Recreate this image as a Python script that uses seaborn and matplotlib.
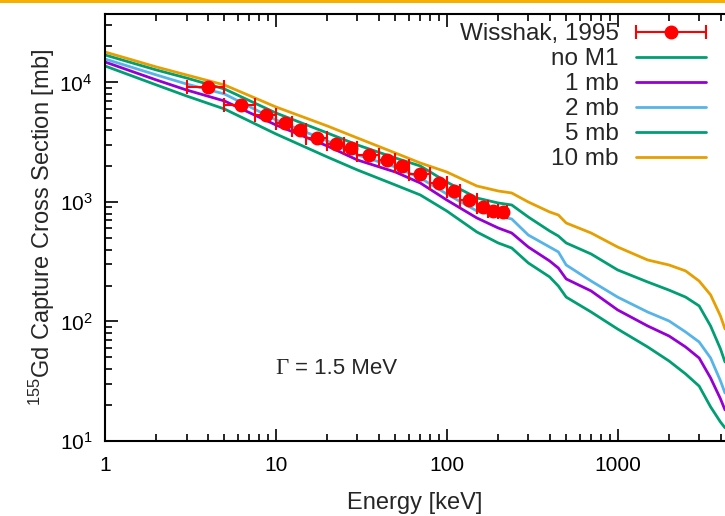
import numpy as np
import pandas as pd
import matplotlib
matplotlib.use("Agg")
import matplotlib.pyplot as plt
import seaborn as sns
from matplotlib.container import ErrorbarContainer
from matplotlib.legend_handler import HandlerErrorbar
from matplotlib.ticker import LogLocator, FixedLocator, FuncFormatter, NullFormatter, LogFormatterMathtext

# model curves, capture cross section [mb] vs neutron energy [keV]
energy = [1, 2, 3, 5, 10, 20, 30, 50, 70, 100, 150, 200, 240, 300, 400, 450, 500,
          700, 1000, 1500, 2000, 2500, 3000, 3500, 4000, 4250]
xs_no_m1 = [13750, 9530, 7710, 6000, 3710, 2380, 1853, 1388, 1145, 841, 561, 454, 412, 309,
            236, 198, 160, 120, 86.5, 61.2, 46.7, 36.4, 28.8, 19.3, 14.4, 12.9]
xs_1mb = [14840, 10490, 8650, 7000, 4410, 2940, 2246, 1782, 1442, 1039, 735, 606, 550, 420,
          321, 280, 227, 180, 125, 91.7, 75.6, 61.2, 49.5, 33.7, 22.5, 18.2]
xs_2mb = [15720, 11560, 9710, 8010, 4860, 3240, 2474, 1963, 1588, 1167, 841, 764, 721, 529,
          420, 382, 297, 218, 160, 120, 101, 81.7, 67.4, 49.5, 31.8, 25.2]
xs_5mb = [16990, 12720, 10900, 8825, 5557, 3780, 3000, 2335, 2001, 1470, 1080, 981, 944, 749,
          572, 519, 454, 367, 270, 214, 183, 160, 135, 91.7, 58.9, 45.8]
xs_10mb = [17990, 13480, 11560, 9530, 6240, 4325, 3432, 2570, 2120, 1782, 1361, 1236, 1189,
           1000, 825, 778, 667, 550, 420, 327, 297, 265, 218, 167, 111, 86.5]

# Wisshak 1995 measurement: energy bins and cross sections
exp_lo = [3, 5, 7.5, 10, 12.5, 15, 20, 25, 30, 40, 50, 60, 80, 100, 120, 150, 175, 200]
exp_hi = [5, 7.5, 10, 12.5, 15, 20, 25, 30, 40, 50, 60, 80, 100, 120, 150, 175, 200, 225]
exp_xs = [9230, 6440, 5320, 4560, 4000, 3450, 3040, 2850, 2460, 2230, 2000, 1710, 1450,
          1240, 1040, 908, 841, 825]

models = ["no M1", "1 mb", "2 mb", "5 mb", "10 mb"]
model_xs = [xs_no_m1, xs_1mb, xs_2mb, xs_5mb, xs_10mb]
palette = {"no M1": "#009e73", "1 mb": "#9400d3", "2 mb": "#56b4e9",
           "5 mb": "#009e73", "10 mb": "#e69f00"}

df = pd.concat([pd.DataFrame({"energy": energy, "xs": v, "model": m})
                for m, v in zip(models, model_xs)], ignore_index=True)

sns.set_style("ticks")
plt.rcParams["font.family"] = ["Liberation Sans", "DejaVu Sans"]
plt.rcParams["mathtext.fontset"] = "custom"
plt.rcParams["mathtext.rm"] = "Liberation Sans"
plt.rcParams["mathtext.it"] = "Liberation Sans:italic"

fig = plt.figure(figsize=(7.25, 5.16), dpi=100)
ax = fig.add_axes([105 / 725, 75 / 516, 620 / 725, 427 / 516])

sns.lineplot(data=df, x="energy", y="xs", hue="model", hue_order=models,
             palette=palette, linewidth=2, ax=ax, legend=True)
ax.get_legend().remove()

e_lo = np.array(exp_lo)
e_hi = np.array(exp_hi)
e_mid = (e_lo + e_hi) / 2
eb = ax.errorbar(e_mid, exp_xs, xerr=[e_mid - e_lo, e_hi - e_mid], fmt="o", color="red",
                 ms=9, capsize=5, elinewidth=1.5, capthick=1.5, zorder=5,
                 label="Wisshak, 1995")

ax.set_xscale("log")
ax.set_yscale("log")
ax.set_xlim(1, 4250)
ax.set_ylim(10, 37400)

ax.xaxis.set_major_locator(FixedLocator([1, 10, 100, 1000]))
ax.xaxis.set_major_formatter(FuncFormatter(lambda v, p: f"{v:g}"))
ax.xaxis.set_minor_locator(LogLocator(base=10, subs=np.arange(2, 10)))
ax.xaxis.set_minor_formatter(NullFormatter())
ax.yaxis.set_major_locator(FixedLocator([10, 100, 1000, 10000]))
ax.yaxis.set_major_formatter(LogFormatterMathtext())
ax.yaxis.set_minor_locator(LogLocator(base=10, subs=np.arange(2, 10)))
ax.yaxis.set_minor_formatter(NullFormatter())

ax.tick_params(which="both", direction="in", top=True, right=False, width=1.2,
               labelsize=15, colors="black")
ax.tick_params(which="major", length=9)
ax.tick_params(axis="x", which="major", pad=11)
ax.tick_params(axis="y", which="major", pad=9)
ax.tick_params(which="minor", length=5)
ax.spines["right"].set_visible(False)
for s in ["left", "bottom", "top"]:
    ax.spines[s].set_linewidth(1.5)
    ax.spines[s].set_color("black")

ax.set_xlabel("Energy [keV]", fontsize=17, labelpad=12)
ax.set_ylabel(r"$^{155}$Gd Capture Cross Section [mb]", fontsize=17, labelpad=2)

ax.text(9.9, 40.8, "\u0393", family=["Liberation Serif"], fontsize=16.5, va="center", ha="left")
ax.text(12.9, 40.8, "= 1.5 MeV", fontsize=16, va="center", ha="left")

handles, labels = ax.get_legend_handles_labels()
order = [labels.index("Wisshak, 1995")] + [labels.index(m) for m in models]
ax.legend([handles[i] for i in order], [labels[i] for i in order],
          loc="upper right", bbox_to_anchor=(0.97, 0.978), frameon=False,
          markerfirst=False, fontsize=17.5, handlelength=2.9, labelspacing=0.12,
          borderpad=0, borderaxespad=0, handletextpad=0.7,
          handler_map={ErrorbarContainer: HandlerErrorbar(xerr_size=1.45)})

# orange strip at the top edge of the slide
fig.add_artist(plt.Rectangle((0, 1 - 3 / 516), 1, 3 / 516, transform=fig.transFigure,
                             color="#f7b000", lw=0))

fig.savefig("out.png", dpi=100)
